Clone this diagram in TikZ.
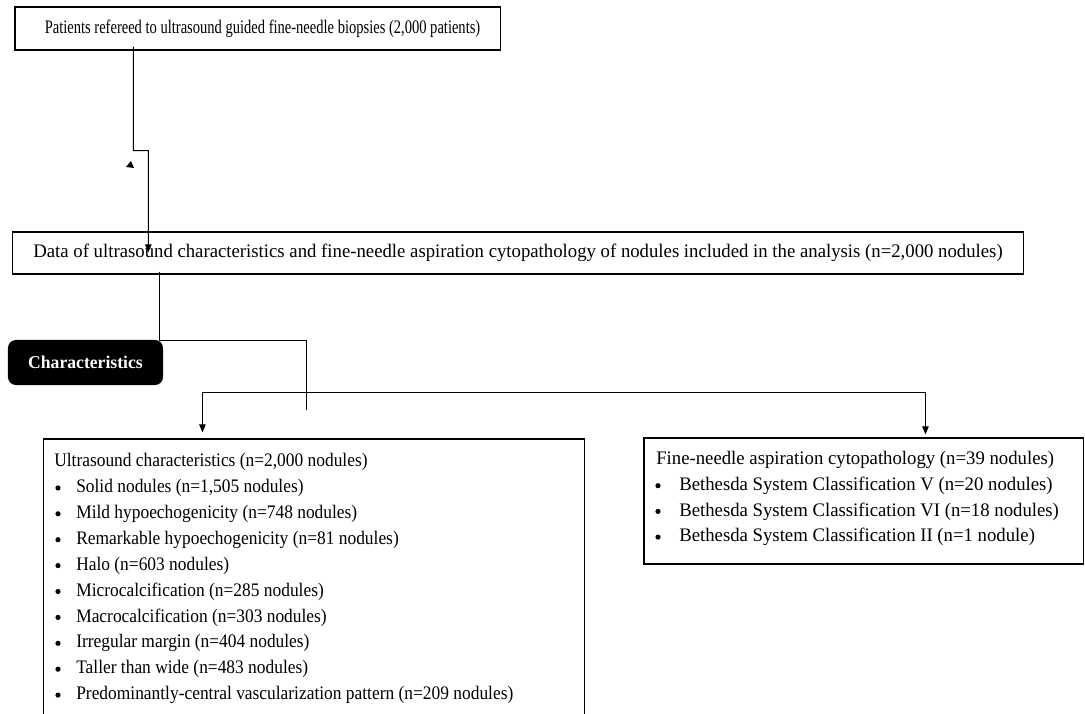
\documentclass[tikz,border=0pt]{standalone}
\usepackage{fontspec}
\setmainfont{Liberation Serif}[FakeStretch=0.98]
\newfontfamily\topfont{Liberation Serif}[FakeStretch=0.76]
\newfontfamily\listfont{Liberation Serif}[FakeStretch=0.91]
\usetikzlibrary{arrows.meta}
\tikzset{
	flowbox/.style={draw, line width=0.8pt, inner sep=0pt, font=\fontsize{13.6pt}{16pt}\selectfont},
	listtext/.style={anchor=west, inner sep=0pt, font=\fontsize{13.6pt}{16pt}\selectfont},
	listdot/.style={circle, fill, inner sep=0pt, minimum size=0.13cm},
	conn/.style={line width=0.8pt},
	tip/.tip={Triangle[length=0.2cm,width=0.16cm]}
}
\begin{document}
\begin{tikzpicture}[x=0.025cm,y=-0.025cm]
\useasboundingbox (0,0) rectangle (1085,714);
\clip (0,0) rectangle (1085,714);

%Kaesten
\node[flowbox, minimum width=12.125cm, minimum height=1.075cm] (patients) at (257.5,28.5)
	{\hspace*{0.25cm}\topfont Patients refereed to ultrasound guided fine-needle biopsies (2,000 patients)};
\node[flowbox, minimum width=25.25cm, minimum height=1.05cm] (data) at (518,253)
	{Data of ultrasound characteristics and fine-needle aspiration cytopathology of nodules included in the analysis (n=2,000 nodules)};
\node[fill=black, rounded corners=0.2cm, minimum width=3.875cm, minimum height=1.125cm, text=white,
	font=\bfseries\fontsize{12.8pt}{15pt}\selectfont] (charlabel) at (85.5,362.5) {Characteristics};
\node[flowbox, minimum width=13.5cm, minimum height=7.275cm] (usbox) at (314,584.5) {};
\node[flowbox, minimum width=10.975cm, minimum height=3.15cm] (fnabox) at (863.5,501) {};

%Ultraschall
\node[listtext] (ushead) at (54,462) {\listfont Ultrasound characteristics (n=2,000 nodules)};
\foreach \t [count=\i] in
{
{Solid nodules (n=1,505 nodules)},
{Mild hypoechogenicity (n=748 nodules)},
{Remarkable hypoechogenicity (n=81 nodules)},
{Halo (n=603 nodules)},
{Microcalcification (n=285 nodules)},
{Macrocalcification (n=303 nodules)},
{Irregular margin (n=404 nodules)},
{Taller than wide (n=483 nodules)},
{Predominantly-central vascularization pattern (n=209 nodules)}
}
{
	\node[listdot] (usdot\i) at (58,462+\i*25.9) {};
	\node[listtext] (usitem\i) at (76,462+\i*25.9) {\listfont\t};
}

%Zytopathologie
\node[listtext] (fnahead) at (656,460) {Fine-needle aspiration cytopathology (n=39 nodules)};
\foreach \t [count=\i] in
{
{Bethesda System Classification V (n=20 nodules)},
{Bethesda System Classification VI (n=18 nodules)},
{Bethesda System Classification II (n=1 nodule)}
}
{
	\node[listdot] (fnadot\i) at (658,460+\i*25.7) {};
	\node[listtext] (fnaitem\i) at (679,460+\i*25.7) {\t};
}

%Verbindungen
\draw[conn, -tip] ([xshift=2.975cm,yshift=0.1cm]patients.south west) -- ++(0,104) -- ++(15,0)
	-- ([xshift=3.4cm,yshift=-0.525cm]data.north west);
\draw[conn] ([xshift=3.675cm,yshift=0.075cm]data.south west) -- ++(0,69) -- ++(147,0) -- ++(0,69);
\draw[conn, tip-tip] ([xshift=3.975cm,yshift=0.15cm]usbox.north west) -- ++(0,-40)
	-| ([xshift=7.05cm,yshift=0.075cm]fnabox.north west);

%Pfeilspitze
\fill (131,161) -- (126,167) -- (134,168) -- cycle;

\end{tikzpicture}
\end{document}
